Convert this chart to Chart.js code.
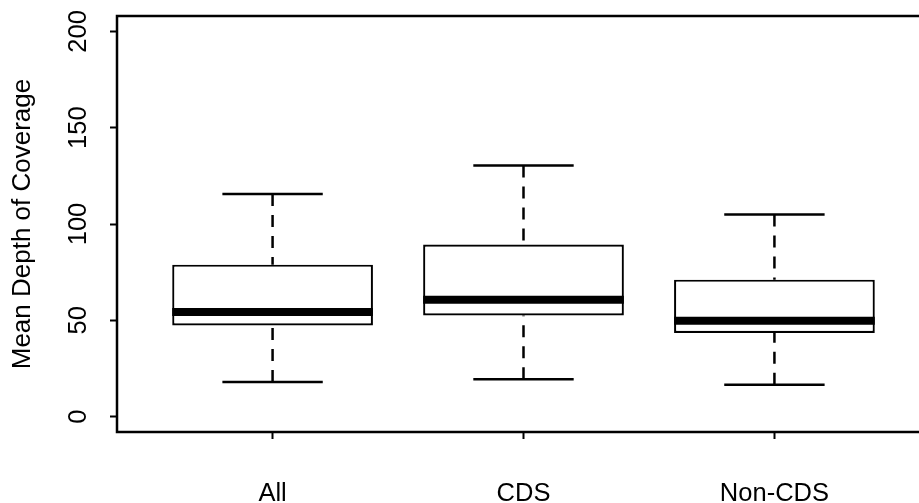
<!DOCTYPE html>
<html>
<head>
<meta charset="utf-8">
<script src="https://cdn.jsdelivr.net/npm/chart.js@4/dist/chart.umd.min.js"></script>
<style>
    html, body { margin: 0; padding: 0; background: #fff; }
    #wrap { width: 919px; height: 503px; overflow: hidden; position: relative; }
    #boxChart { display: block; }
</style>
</head>
<body>
<div id="wrap">
    <canvas id="boxChart" width="930" height="503"></canvas>
</div>
<script>
// Box plot statistics
const categories = ['All', 'CDS', 'Non-CDS'];
const whiskerLow = [17.9, 19.4, 16.5];
const quartile1 = [47.3, 52.5, 43.4];
const medians = [54.3, 60.7, 49.8];
const quartile3 = [78.9, 89.3, 71.1];
const whiskerHigh = [115.6, 130.4, 104.9];
const yTicks = [0, 50, 100, 150, 200];
const yLabel = 'Mean Depth of Coverage';

class BoxPlotChart {
    constructor() {
        this.fontFamily = '"Liberation Sans", Arial, sans-serif';
        this.initializeChart();
    }

    // Draws whiskers, caps and medians from the box elements laid out by Chart.js
    whiskerPlugin() {
        return {
            id: 'whiskers',
            afterDatasetsDraw(chart) {
                const ctx = chart.ctx;
                const yScale = chart.scales.y;
                const boxes = chart.getDatasetMeta(0).data;
                ctx.save();
                ctx.strokeStyle = '#000';
                boxes.forEach((bar, i) => {
                    const x = bar.x;
                    const half = bar.width / 2;
                    const yMin = yScale.getPixelForValue(whiskerLow[i]);
                    const yQ1 = yScale.getPixelForValue(quartile1[i]);
                    const yMed = yScale.getPixelForValue(medians[i]);
                    const yQ3 = yScale.getPixelForValue(quartile3[i]);
                    const yMax = yScale.getPixelForValue(whiskerHigh[i]);

                    // dashed whiskers, drawn from the outer end towards the box
                    ctx.lineWidth = 2.5;
                    ctx.lineCap = 'butt';
                    ctx.setLineDash([12, 9]);
                    ctx.beginPath();
                    ctx.moveTo(x, yMin);
                    ctx.lineTo(x, yQ1);
                    ctx.moveTo(x, yMax);
                    ctx.lineTo(x, yQ3);
                    ctx.stroke();

                    // whisker caps
                    ctx.setLineDash([]);
                    ctx.beginPath();
                    ctx.moveTo(x - half / 2, yMin);
                    ctx.lineTo(x + half / 2, yMin);
                    ctx.moveTo(x - half / 2, yMax);
                    ctx.lineTo(x + half / 2, yMax);
                    ctx.stroke();

                    // median
                    ctx.lineWidth = 8;
                    ctx.beginPath();
                    ctx.moveTo(x - half, yMed);
                    ctx.lineTo(x + half, yMed);
                    ctx.stroke();
                });

                // plot frame
                const area = chart.chartArea;
                ctx.lineWidth = 2.5;
                ctx.strokeRect(area.left, area.top, area.right - area.left, area.bottom - area.top);
                ctx.restore();
            }
        };
    }

    initializeChart() {
        const ctx = document.getElementById('boxChart').getContext('2d');
        const font = { family: this.fontFamily, size: 25.5 };

        this.chart = new Chart(ctx, {
            type: 'bar',
            data: {
                datasets: [{
                    label: 'IQR',
                    data: categories.map((c, i) => ({ x: i + 1, y: [quartile1[i], quartile3[i]] })),
                    backgroundColor: '#fff',
                    borderColor: '#000',
                    borderWidth: 2.2,
                    borderSkipped: false,
                    categoryPercentage: 1,
                    barPercentage: 0.8
                }]
            },
            options: {
                responsive: false,
                devicePixelRatio: 1,
                animation: false,
                layout: { padding: { top: 16, left: 0, right: 0, bottom: 0 } },
                plugins: {
                    legend: { display: false },
                    tooltip: { enabled: false }
                },
                scales: {
                    x: {
                        type: 'linear',
                        min: 0.38,
                        max: 3.62,
                        offset: false,
                        afterBuildTicks: (scale) => {
                            scale.ticks = categories.map((c, i) => ({ value: i + 1 }));
                        },
                        afterFit: (scale) => {
                            scale.height = 71;
                            scale.paddingLeft = 0;
                            scale.paddingRight = 0;
                        },
                        border: { display: false },
                        grid: {
                            offset: false,
                            drawOnChartArea: false,
                            drawTicks: true,
                            tickLength: 7,
                            tickWidth: 2,
                            tickColor: '#000'
                        },
                        ticks: {
                            color: '#000',
                            font: font,
                            padding: 40,
                            maxRotation: 0,
                            autoSkip: false,
                            callback: (value) => categories[value - 1]
                        }
                    },
                    y: {
                        min: -8,
                        max: 208,
                        afterBuildTicks: (scale) => {
                            scale.ticks = yTicks.map(v => ({ value: v }));
                        },
                        afterFit: (scale) => {
                            scale.width = 117;
                            scale.paddingTop = 0;
                            scale.paddingBottom = 0;
                        },
                        border: { display: false },
                        grid: {
                            drawOnChartArea: false,
                            drawTicks: true,
                            tickLength: 7,
                            tickWidth: 2,
                            tickColor: '#000'
                        },
                        ticks: {
                            color: '#000',
                            font: font,
                            padding: 10,
                            minRotation: 90,
                            maxRotation: 90,
                            crossAlign: 'center'
                        },
                        title: {
                            display: true,
                            text: yLabel,
                            color: '#000',
                            font: { family: this.fontFamily, size: 26 },
                            padding: { top: 7, bottom: 0 }
                        }
                    }
                }
            },
            plugins: [this.whiskerPlugin()]
        });
    }
}

document.addEventListener('DOMContentLoaded', () => {
    window.boxPlot = new BoxPlotChart();
});
</script>
</body>
</html>
